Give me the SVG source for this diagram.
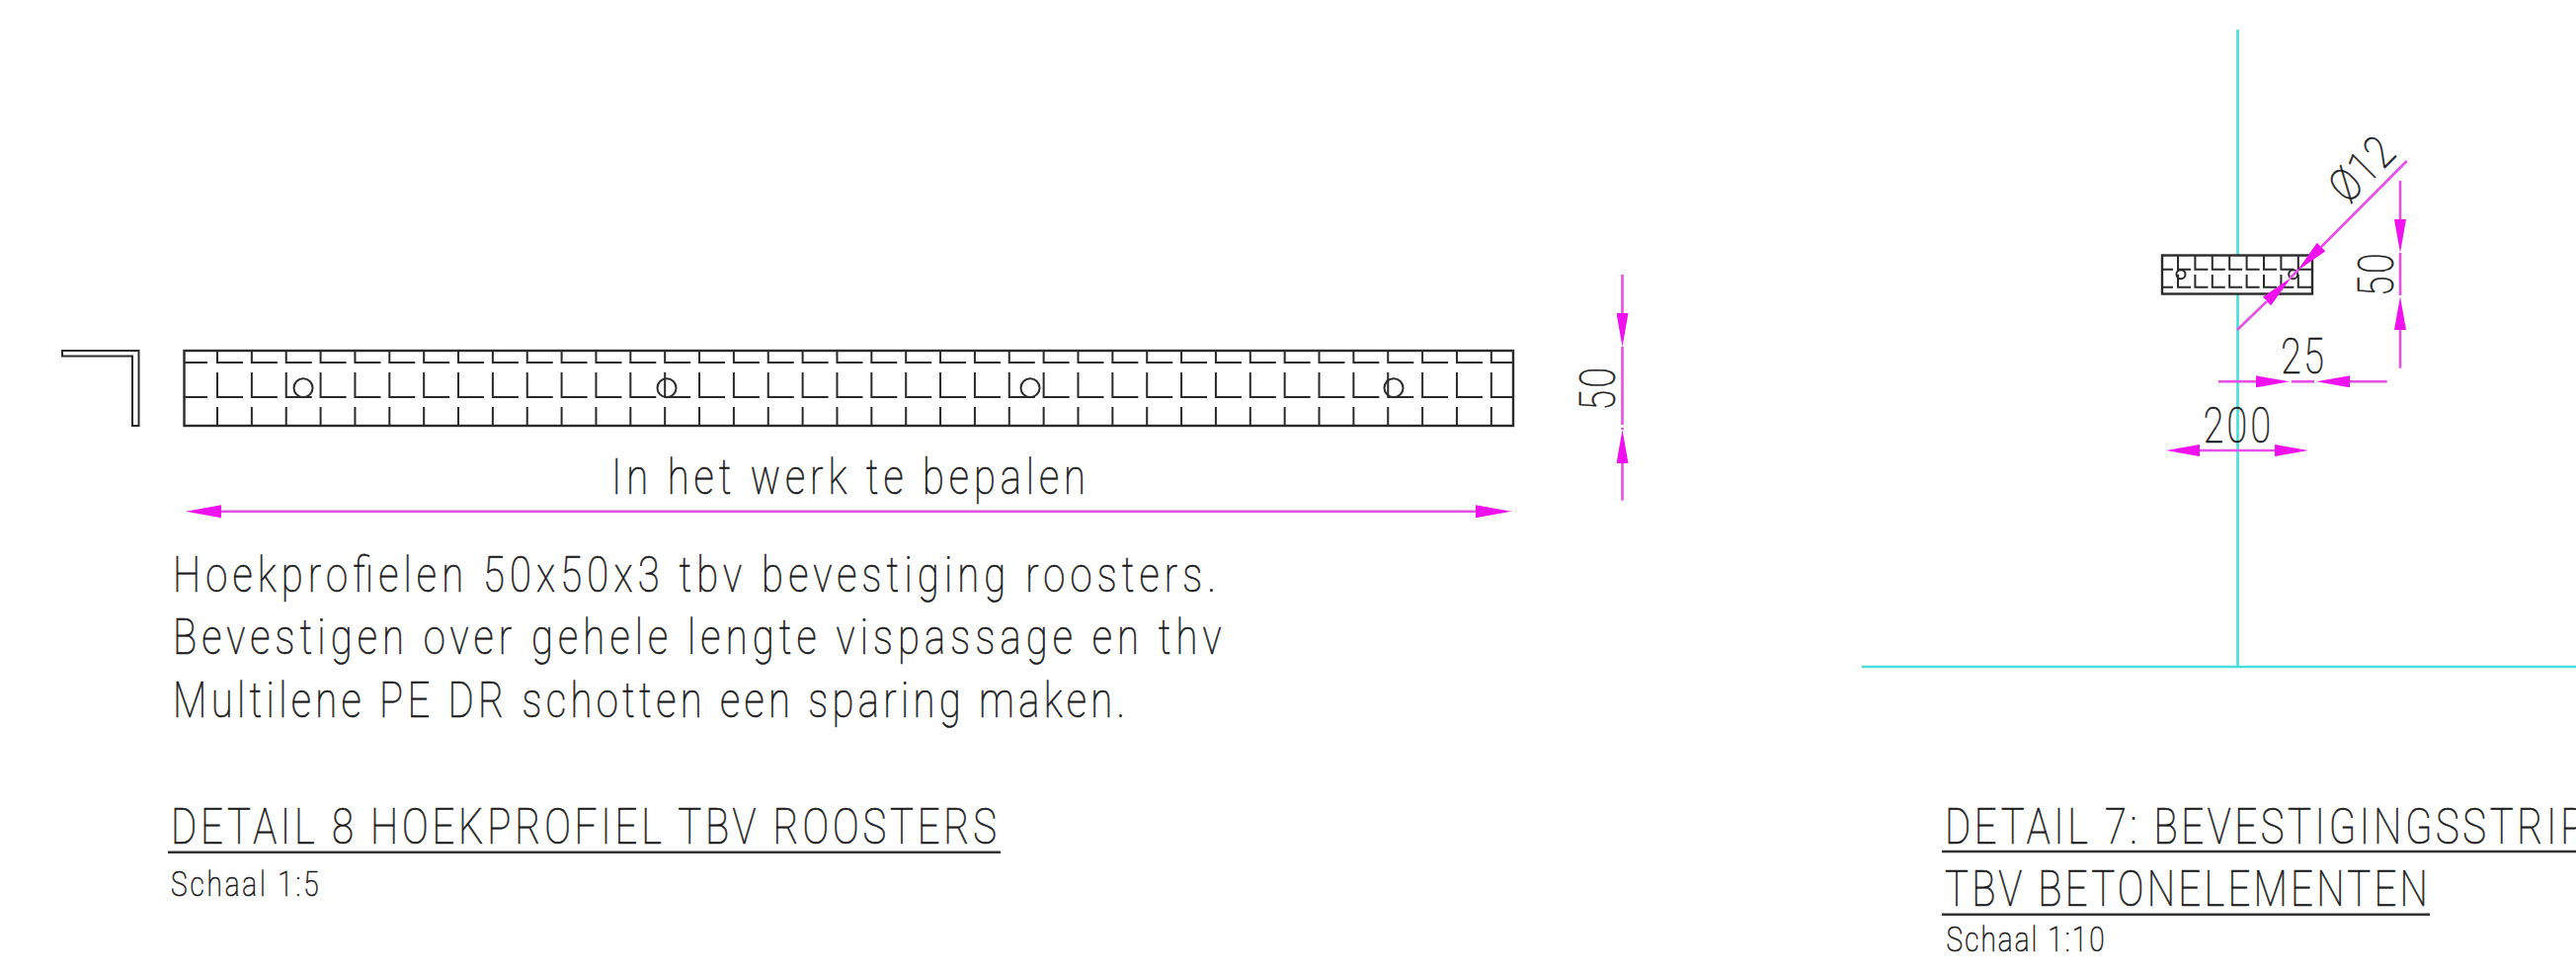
<svg xmlns="http://www.w3.org/2000/svg" width="2608" height="985" viewBox="0 0 2608 985">
<style>
text{font-family:"Roboto","Liberation Sans",sans-serif;font-weight:100;fill:#1c1c1c;stroke:#1c1c1c;stroke-width:.7}
.b{font-size:50px}
.s{font-size:35px}
.obj{fill:none;stroke:#2a2a2a;stroke-width:2.4}
.thin{fill:none;stroke:#2a2a2a;stroke-width:2}
.dim{fill:none;stroke:#e64ee6;stroke-width:2.6}
.big{marker-end:url(#arrowL)}
.arr{marker-end:url(#arrow)}
.cy{fill:none;stroke:#45dcdc;stroke-width:2.6}
.ul{stroke:#333;stroke-width:2.6}
</style>
<defs>
<marker id="arrow" markerUnits="userSpaceOnUse" markerWidth="34" markerHeight="12" viewBox="0 0 34 12" refX="0" refY="6" orient="auto"><path d="M0 0L34 6L0 12Z" fill="#f010f0"/></marker>
<marker id="arrowL" markerUnits="userSpaceOnUse" markerWidth="36" markerHeight="13" viewBox="0 0 36 13" refX="0" refY="6.5" orient="auto"><path d="M0 0L36 6.5L0 13Z" fill="#f010f0"/></marker>
</defs>
<rect width="2608" height="985" fill="#fff"/>
<g id="cyan-lines">
<path class="cy" d="M2265.500 30V258M2265.500 297V675M1885 675H2608"/>
</g>
<g id="angle-profile"><path class="thin" d="M63 355H140.500V431H134V360.500H63Z"/></g>
<g id="strip-long">
<rect class="obj" x="186.500" y="355" width="1345.500" height="76"/>
<path class="thin" d="M186.500 367H210M220 355v12h26
m8.860 -12v12h26m8.860 -12v12h26m8.860 -12v12h26m8.860 -12v12h26m8.860 -12v12h26
m8.860 -12v12h26m8.860 -12v12h26m8.860 -12v12h26m8.860 -12v12h26m8.860 -12v12h26
m8.860 -12v12h26m8.860 -12v12h26m8.860 -12v12h26m8.860 -12v12h26m8.860 -12v12h26
m8.860 -12v12h26m8.860 -12v12h26m8.860 -12v12h26m8.860 -12v12h26m8.860 -12v12h26
m8.860 -12v12h26m8.860 -12v12h26m8.860 -12v12h26m8.860 -12v12h26m8.860 -12v12h26
m8.860 -12v12h26m8.860 -12v12h26m8.860 -12v12h26m8.860 -12v12h26m8.860 -12v12h26
m8.860 -12v12h26m8.860 -12v12h26m8.860 -12v12h26m8.860 -12v12h26m8.860 -12v12h26
m8.860 -12v12h26m8.860 -12v12H1532"/>
<path class="thin" d="M186.500 402H210M220 377v25h26
m8.860 -25v25h26m8.860 -25v25h26m8.860 -25v25h26m8.860 -25v25h26m8.860 -25v25h26
m8.860 -25v25h26m8.860 -25v25h26m8.860 -25v25h26m8.860 -25v25h26m8.860 -25v25h26
m8.860 -25v25h26m8.860 -25v25h26m8.860 -25v25h26m8.860 -25v25h26m8.860 -25v25h26
m8.860 -25v25h26m8.860 -25v25h26m8.860 -25v25h26m8.860 -25v25h26m8.860 -25v25h26
m8.860 -25v25h26m8.860 -25v25h26m8.860 -25v25h26m8.860 -25v25h26m8.860 -25v25h26
m8.860 -25v25h26m8.860 -25v25h26m8.860 -25v25h26m8.860 -25v25h26m8.860 -25v25h26
m8.860 -25v25h26m8.860 -25v25h26m8.860 -25v25h26m8.860 -25v25h26m8.860 -25v25h26
m8.860 -25v25h26m8.860 -25v25H1532"/>
<path class="thin" d="M220 412v19
m34.860 -19v19m34.860 -19v19m34.860 -19v19m34.860 -19v19m34.860 -19v19
m34.860 -19v19m34.860 -19v19m34.860 -19v19m34.860 -19v19m34.860 -19v19
m34.860 -19v19m34.860 -19v19m34.860 -19v19m34.860 -19v19m34.860 -19v19
m34.860 -19v19m34.860 -19v19m34.860 -19v19m34.860 -19v19m34.860 -19v19
m34.860 -19v19m34.860 -19v19m34.860 -19v19m34.860 -19v19m34.860 -19v19
m34.860 -19v19m34.860 -19v19m34.860 -19v19m34.860 -19v19m34.860 -19v19
m34.860 -19v19m34.860 -19v19m34.860 -19v19m34.860 -19v19m34.860 -19v19
m34.860 -19v19m34.860 -19v19"/>
<g class="thin"><circle cx="307" cy="392.700" r="9.500"/><circle cx="675" cy="392.700" r="9.500"/><circle cx="1043" cy="392.700" r="9.500"/><circle cx="1411" cy="392.700" r="9.500"/></g>
</g>
<g id="strip-short">
<rect class="obj" x="2189" y="258.500" width="152" height="39"/>
<path class="thin" d="M2189 272.700H2200M2205 258.500v14.200h13m4.400 -14.200v14.200h13m4.400 -14.200v14.200h13m4.400 -14.200v14.200h13m4.400 -14.200v14.200h13m4.400 -14.200v14.200h13m4.400 -14.200v14.200h13m4.400 -14.200v14.200H2341"/>
<path class="thin" d="M2189 290.700H2200M2205 278v12.700h13m4.400 -12.700v12.700h13m4.400 -12.700v12.700h13m4.400 -12.700v12.700h13m4.400 -12.700v12.700h13m4.400 -12.700v12.700h13m4.400 -12.700v12.700h13m4.400 -12.700v12.700H2341"/>
<g class="thin"><circle cx="2208" cy="277.700" r="4.500"/><circle cx="2321.700" cy="277.700" r="4.500"/></g>
</g>
<g id="connectors">
<path class="dim big" d="M1000 517.700H224"/>
<path class="dim big" d="M1000 517.700H1494"/>
<path class="dim arr" d="M1642.500 278V317"/>
<path class="dim arr" d="M1642.500 506.700V469"/>
<path class="dim" d="M1642.500 351V430M1642.500 433V435"/>
<path class="dim arr" d="M2265 334L2295 305"/>
<path class="dim arr" d="M2436.700 163L2350 250"/>
<path class="dim" d="M2318 282L2327 273"/>
<path class="dim arr" d="M2430 183V222"/>
<path class="dim arr" d="M2430 372.700V334"/>
<path class="dim" d="M2430 256V299"/>
<path class="dim arr" d="M2246 386.300H2284"/>
<path class="dim arr" d="M2416.700 386.300H2379"/>
<path class="dim" d="M2320 386.300H2343"/>
<path class="dim arr" d="M2265 456H2227"/>
<path class="dim arr" d="M2265 456H2303"/>
</g>
<g id="labels">
<text class="b" transform="translate(619 500) scale(.8 1)" textLength="600">In het werk te bepalen</text>
<text class="b" transform="translate(175 599) scale(.8 1)" textLength="1320">Hoekprofielen 50x50x3 tbv bevestiging roosters.</text>
<text class="b" transform="translate(175 662) scale(.8 1)" textLength="1327">Bevestigen over gehele lengte vispassage en thv</text>
<text class="b" transform="translate(175 726) scale(.8 1)" textLength="1205">Multilene PE DR schotten een sparing maken.</text>
<text class="b" transform="translate(173 854) scale(.8 1)" textLength="1045">DETAIL 8 HOEKPROFIEL TBV ROOSTERS</text>
<line class="ul" x1="170" y1="862.700" x2="1013" y2="862.700"/>
<text class="s" transform="translate(173 907) scale(.8 1)" textLength="187">Schaal 1:5</text>
<text class="b" transform="translate(1969 854) scale(.8 1)" textLength="809">DETAIL 7: BEVESTIGINGSSTRIP</text>
<line class="ul" x1="1966" y1="862" x2="2608" y2="862"/>
<text class="b" transform="translate(1969 917.300) scale(.8 1)" textLength="611">TBV BETONELEMENTEN</text>
<line class="ul" x1="1966" y1="925.700" x2="2460" y2="925.700"/>
<text class="s" transform="translate(1970.500 963) scale(.8 1)" textLength="200">Schaal 1:10</text>
<text class="b" transform="translate(1634.500 415.500) rotate(-90) scale(.75 1)" textLength="58">50</text>
<text class="b" transform="translate(2422.500 300) rotate(-90) scale(.75 1)" textLength="58">50</text>
<text transform="translate(2377 207.500) rotate(-45) scale(.85 1)" font-size="46" textLength="84">Ø12</text>
<text class="b" transform="translate(2309.300 377.700) scale(.75 1)" textLength="58">25</text>
<text class="b" transform="translate(2230.700 448.300) scale(.75 1)" textLength="91">200</text>
</g>
</svg>
